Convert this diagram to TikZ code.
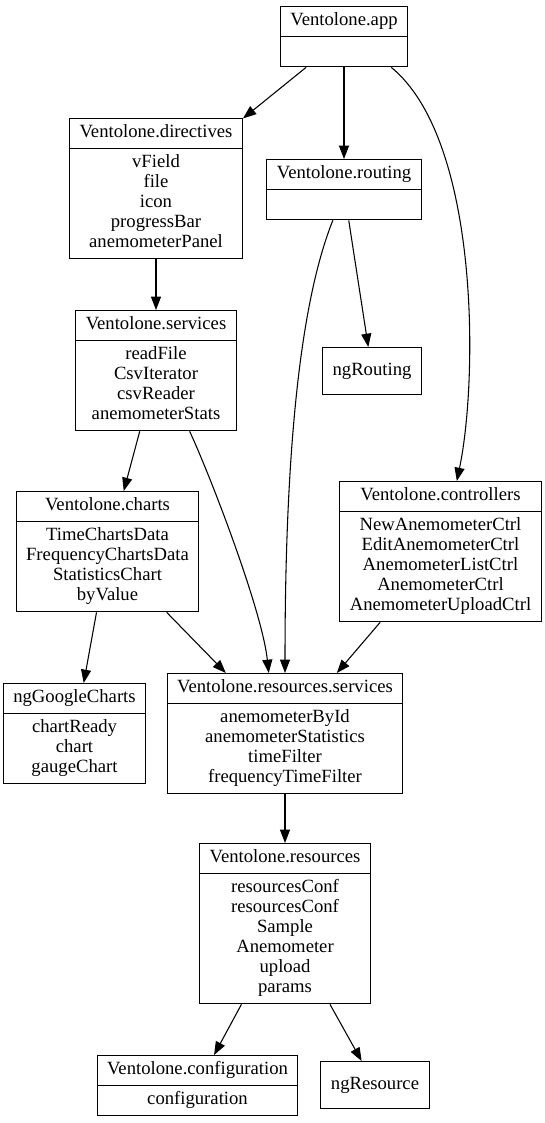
\documentclass[tikz,border=0pt]{standalone}
\usepackage{fontspec}
\setmainfont{Liberation Serif}
\usetikzlibrary{shapes.multipart,arrows.meta}

\newcommand{\ngmodule}[2]{\strut#1\nodepart{second}\strut#2\strut}

\tikzset{
  module/.style={draw, line width=0.8pt, rectangle split, rectangle split parts=2,
    align=center, anchor=north, inner xsep=7.5pt, inner ysep=3.4pt,
    font=\fontsize{14}{15}\selectfont},
  extmodule/.style={draw, line width=0.8pt, anchor=north, inner xsep=7.5pt,
    minimum height=35.25pt, font=\fontsize{14}{15}\selectfont},
  dep/.style={-{Triangle[length=10pt,width=7.5pt]}, line width=0.8pt},
}

\begin{document}
\begin{tikzpicture}[x=0.75pt,y=-0.75pt]
  \useasboundingbox (0,0) rectangle (544,1123);
  % modules
  \node[module] (app) at (344,6) {\ngmodule{Ventolone.app}{}};
  \node[module] (directives) at (156,118)
    {\ngmodule{Ventolone.directives}{vField\\file\\icon\\progressBar\\anemometerPanel}};
  \node[module] (routing) at (344,159) {\ngmodule{Ventolone.routing}{}};
  \node[extmodule] (ngrouting) at (372,347) {ngRouting};
  \node[module] (services) at (156,310)
    {\ngmodule{Ventolone.services}{readFile\\CsvIterator\\csvReader\\anemometerStats}};
  \node[module] (charts) at (107.5,491)
    {\ngmodule{Ventolone.charts}{TimeChartsData\\FrequencyChartsData\\StatisticsChart\\byValue}};
  \node[module] (controllers) at (440.5,481)
    {\ngmodule{Ventolone.controllers}{NewAnemometerCtrl\\EditAnemometerCtrl\\AnemometerListCtrl\\AnemometerCtrl\\AnemometerUploadCtrl}};
  \node[module] (googlecharts) at (74.5,683)
    {\ngmodule{ngGoogleCharts}{chartReady\\chart\\gaugeChart}};
  \node[module] (resservices) at (285,673)
    {\ngmodule{Ventolone.resources.services}{anemometerById\\anemometerStatistics\\timeFilter\\frequencyTimeFilter}};
  \node[module] (resources) at (285,843)
    {\ngmodule{Ventolone.resources}{resourcesConf\\resourcesConf\\Sample\\Anemometer\\upload\\params}};
  \node[module] (configuration) at (197.5,1055)
    {\ngmodule{Ventolone.configuration}{configuration}};
  \node[extmodule] (ngresource) at (375,1061) {ngResource};
  % dependencies
  \draw[dep] (app) -- (directives);
  \draw[dep] (app) -- (routing);
  \draw[dep] (app.-33) .. controls (480,140) and (478,380) .. (controllers.77);
  \draw[dep] (directives) -- (services);
  \draw[dep] (routing) -- (ngrouting);
  \draw[dep] (routing.-110) .. controls (305,290) and (285,420) .. (resservices.north);
  \draw[dep] (services) -- (charts);
  \draw[dep] (services.-61) .. controls (210,475) and (262,610) .. (resservices.105);
  \draw[dep] (charts) -- (googlecharts);
  \draw[dep] (charts) -- (resservices);
  \draw[dep] (controllers) -- (resservices);
  \draw[dep] (resservices) -- (resources);
  \draw[dep] (resources) -- (configuration);
  \draw[dep] (resources) -- (ngresource);
\end{tikzpicture}
\end{document}
